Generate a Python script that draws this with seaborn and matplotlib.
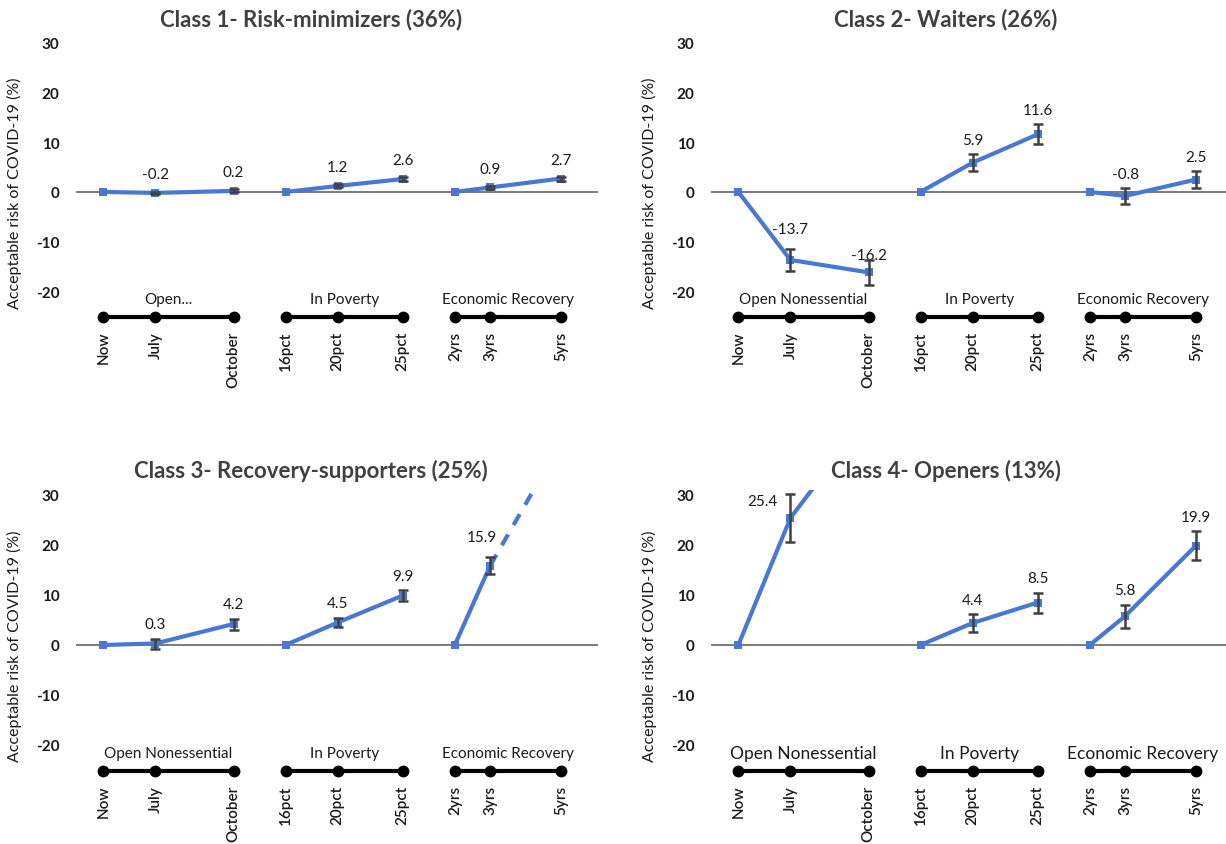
import numpy as np
import pandas as pd
import matplotlib
matplotlib.use("Agg")
import matplotlib.pyplot as plt
import seaborn as sns

sns.set_theme(style="white")
plt.rcParams['font.family'] = ['Lato', 'DejaVu Sans']

# --- data -------------------------------------------------------------
GROUPS = ["Open Nonessential", "In Poverty", "Economic Recovery"]
LEVELS = [["Now", "July", "October"],
          ["16pct", "20pct", "25pct"],
          ["2yrs", "3yrs", "5yrs"]]
# natural value of each level: months from now, pct in poverty, years
LEVEL_VALUES = [[0, 2, 5], [16, 20, 25], [2, 3, 5]]

TITLES = ["Class 1- Risk-minimizers (36%)", "Class 2- Waiters (26%)",
          "Class 3- Recovery-supporters (25%)", "Class 4- Openers (13%)"]
GROUP_LABELS = [["Open...", "In Poverty", "Economic Recovery"],
                GROUPS, GROUPS, GROUPS]

# estimates per class, in level order (Now..October, 16..25pct, 2..5yrs)
class1 = [0, -0.2, 0.2, 0, 1.2, 2.6, 0, 0.9, 2.7]
class2 = [0, -13.7, -16.2, 0, 5.9, 11.6, 0, -0.8, 2.5]
class3 = [0, 0.3, 4.2, 0, 4.5, 9.9, 0, 15.9, 40.5]
class4 = [0, 25.4, 46.0, 0, 4.4, 8.5, 0, 5.8, 19.9]

# half-width of the error bars
err1 = [0, 0.2, 0.3, 0, 0.3, 0.4, 0, 0.3, 0.4]
err2 = [0, 2.3, 2.5, 0, 1.7, 2.0, 0, 1.65, 1.8]
err3 = [0, 1.0, 1.1, 0, 0.9, 1.05, 0, 1.7, 0]
err4 = [0, 4.85, 0, 0, 1.8, 2.0, 0, 2.3, 2.9]

# points that are off the chart: no value label / error bar
HIDDEN = {(2, 8), (3, 2)}

VALUES = [class1, class2, class3, class4]
ERRORS = [err1, err2, err3, err4]

# --- layout -----------------------------------------------------------
BLUE = "#4a78d0"
GROUP_START = [0, 7, 13.5]
GROUP_SCALE = [1.0, 0.5, 1.36]


def x_positions():
    xs = []
    for g, vals in enumerate(LEVEL_VALUES):
        for v in vals:
            xs.append(GROUP_START[g] + GROUP_SCALE[g] * (v - vals[0]))
    return xs


XS = x_positions()
TICKS = [lab for grp in LEVELS for lab in grp]

# label nudges: (panel, point) -> (dx points, dy data)
NUDGE = {(1, 1): (0, 1.2), (1, 2): (0, -1.8), (2, 7): (-6, 1.2),
         (3, 1): (-20, -4.2)}

fig = plt.figure(figsize=(12.26, 8.45), dpi=100)
W, H = 1226, 845
boxes = [(76, 39, 522, 286), (711, 39, 522, 286),
         (76, 491, 522, 288), (711, 491, 522, 288)]

for i, (l, t, w, h) in enumerate(boxes):
    ax = fig.add_axes([l / W, 1 - (t + h) / H, w / W, h / H])
    vals = VALUES[i]
    errs = ERRORS[i]

    ax.axhline(0, color="#6f6f6f", lw=1.3, zorder=1)

    for g in range(3):
        idx = list(range(3 * g, 3 * g + 3))
        df = pd.DataFrame({"x": [XS[k] for k in idx], "y": [vals[k] for k in idx]})
        if (i, 3 * g + 2) in HIDDEN and i == 2:
            sns.lineplot(data=df.iloc[:2], x="x", y="y", ax=ax, color=BLUE,
                         lw=3, marker="s", markersize=5.5, markeredgewidth=0)
            sns.lineplot(data=df.iloc[1:], x="x", y="y", ax=ax, color=BLUE,
                         lw=3, linestyle=(0, (3, 2.6)))
        else:
            sns.lineplot(data=df, x="x", y="y", ax=ax, color=BLUE,
                         lw=3, marker="s", markersize=5.5, markeredgewidth=0)

        # group bracket under the plot
        ax.plot([XS[k] for k in idx], [-25.2] * 3, color="black", lw=3,
                marker="o", markersize=7.5, clip_on=False, zorder=5)
        gx = (XS[idx[0]] + XS[idx[-1]]) / 2
        ax.text(gx, -21.6, GROUP_LABELS[i][g], ha="center", va="center",
                fontsize=12.5 if i == 3 else 11, color="#1a1a1a")

    for k, (x, v, e) in enumerate(zip(XS, vals, errs)):
        if (i, k) in HIDDEN or k % 3 == 0:
            continue
        if e > 0:
            ax.errorbar(x, v, yerr=e, fmt="none", ecolor="#404040",
                        elinewidth=1.8, capsize=3.5, capthick=1.8, zorder=4)
        dx, dy = NUDGE.get((i, k), (0, 0))
        ax.annotate(f"{v:.1f}", (x, v + max(e, 1) + 2.8 + dy),
                    xytext=(dx, 0), textcoords="offset points",
                    ha="center", va="center", fontsize=11, color="#1a1a1a",
                    annotation_clip=False)

    ax.set_xlim(-1.05, 19.0)
    ax.set_ylim(-26.6, 31)
    ax.set_yticks([-20, -10, 0, 10, 20, 30])
    ax.set_yticklabels(["-20", "-10", "0", "10", "20", "30"],
                       fontweight="bold", fontsize=11)
    ax.set_xticks(XS)
    ax.set_xticklabels(TICKS, rotation=90, fontsize=11, fontweight="semibold")
    ax.tick_params(axis="both", length=0, colors="#1a1a1a")
    ax.tick_params(axis="y", pad=12)
    ax.tick_params(axis="x", pad=5)
    ax.set_xlabel("")
    ax.set_ylabel("Acceptable risk of COVID-19 (%)", fontsize=11.5, color="#1a1a1a")
    ax.yaxis.set_label_coords(-0.104, 0.46)
    ax.set_title(TITLES[i], x=0.45, fontsize=16, fontweight="bold",
                 color="#404040", pad=9)
    for s in ax.spines.values():
        s.set_visible(False)
    ax.patch.set_alpha(0)

fig.savefig("out.png", dpi=100)
